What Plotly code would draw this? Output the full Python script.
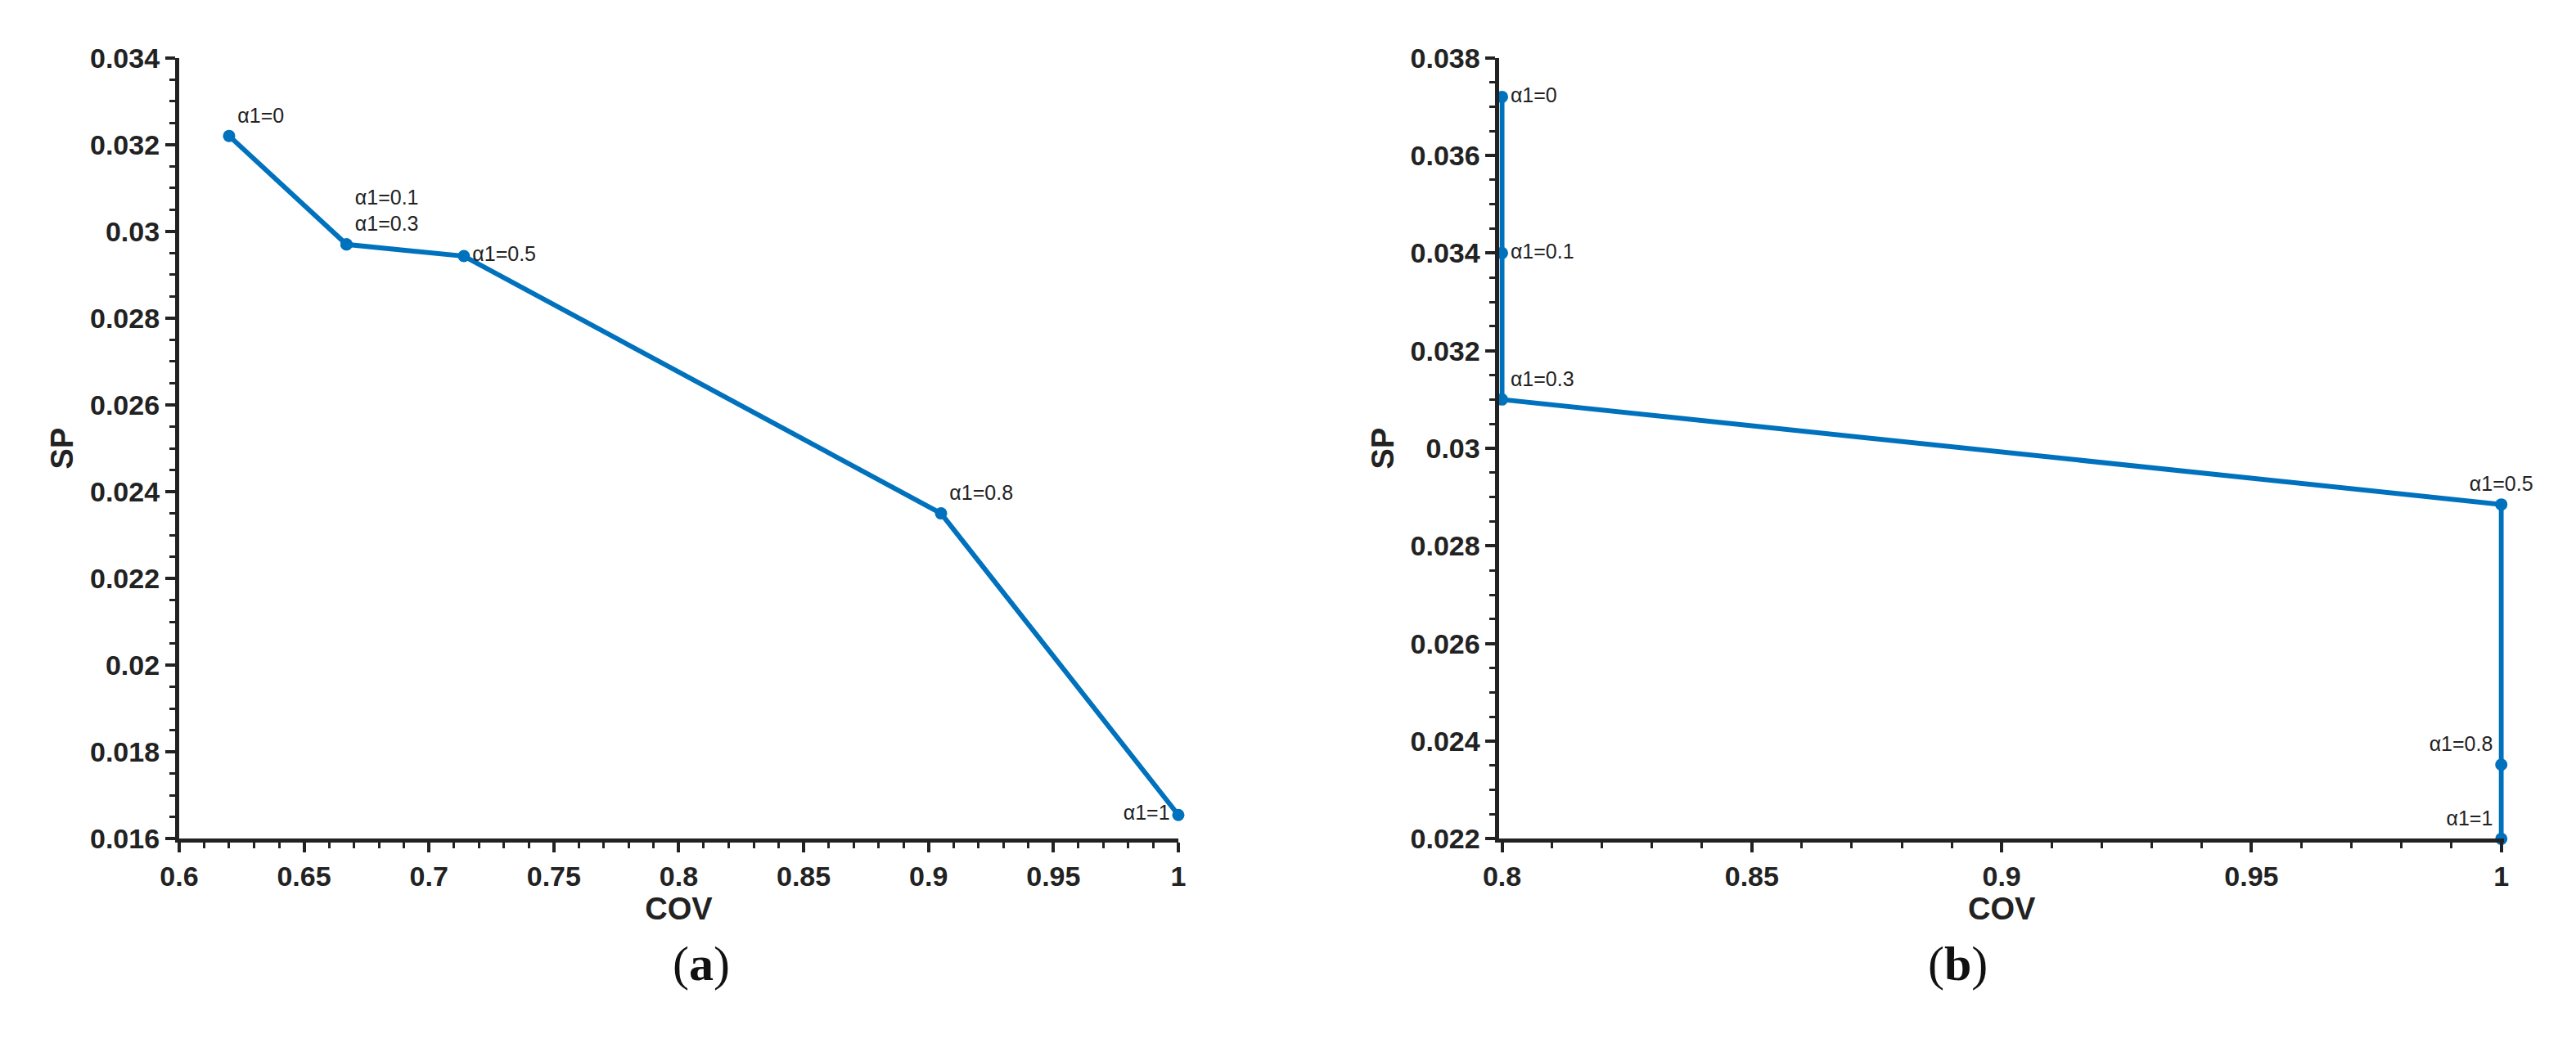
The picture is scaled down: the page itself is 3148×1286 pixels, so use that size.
import plotly.graph_objects as go

cov_a = [0.62, 0.667, 0.667, 0.714, 0.905, 1.0]
sp_a = [0.0322, 0.0297, 0.0297, 0.02943, 0.0235, 0.01655]
lab_a = ["α1=0", "", "α1=0.1<br>α1=0.3", "α1=0.5", "α1=0.8", "α1=1"]
pos_a = ["top right", "top right", "top right", "middle right", "top right", "middle left"]

cov_b = [0.8, 0.8, 0.8, 1.0, 1.0, 1.0]
sp_b = [0.0372, 0.0340, 0.0310, 0.02885, 0.02352, 0.0220]
lab_b = ["α1=0", "α1=0.1", "α1=0.3", "α1=0.5", "α1=0.8", "α1=1"]
pos_b = ["middle right", "middle right", "top right", "top center", "top left", "top left"]

C = "#0072BD"
fig = go.Figure()
fig.add_trace(go.Scatter(x=cov_a, y=sp_a, mode="lines+markers+text", text=lab_a,
                         textposition=pos_a, textfont=dict(size=25, color="#222", family="Liberation Sans"),
                         line=dict(color=C, width=6), marker=dict(color=C, size=15),
                         xaxis="x", yaxis="y", cliponaxis=False))
fig.add_trace(go.Scatter(x=cov_b, y=sp_b, mode="lines+markers+text", text=lab_b,
                         textposition=pos_b, textfont=dict(size=25, color="#222", family="Liberation Sans"),
                         line=dict(color=C, width=6), marker=dict(color=C, size=15),
                         xaxis="x2", yaxis="y2", cliponaxis=False))

ax = dict(showline=True, linecolor="#222", linewidth=5, ticks="outside", ticklen=12,
          tickwidth=4, tickcolor="#222", showgrid=False, zeroline=False,
          tickfont=dict(family="Liberation Sans", size=34, color="#222", weight="bold"),
          minor=dict(ticks="outside", ticklen=7, tickwidth=3, tickcolor="#222", nticks=5))
tfont = dict(family="Liberation Sans", size=38, color="#222", weight="bold")

fig.update_layout(
    width=3148, height=1286, margin=dict(l=0, r=0, t=0, b=0),
    plot_bgcolor="white", paper_bgcolor="white", showlegend=False,
    xaxis=dict(ax, domain=[0.06, 0.452], range=[0.6, 1.0], dtick=0.05,
               title=dict(text="COV", font=tfont, standoff=10), anchor="y"),
    yaxis=dict(ax, domain=[0.2, 0.965], range=[0.016, 0.034], dtick=0.002,
               title=dict(text="SP", font=tfont, standoff=10), anchor="x"),
    xaxis2=dict(ax, domain=[0.578, 0.972], range=[0.7995, 1.0005], tick0=0.8, dtick=0.05,
                title=dict(text="COV", font=tfont, standoff=10), anchor="y2"),
    yaxis2=dict(ax, domain=[0.2, 0.965], range=[0.022, 0.038], dtick=0.002,
                title=dict(text="SP", font=tfont, standoff=10), anchor="x2"),
    annotations=[
        dict(text="(<b>a</b>)", x=0.253, y=0.05, xref="paper", yref="paper", showarrow=False,
             font=dict(family="Liberation Serif", size=60, color="#111")),
        dict(text="(<b>b</b>)", x=0.77, y=0.05, xref="paper", yref="paper", showarrow=False,
             font=dict(family="Liberation Serif", size=60, color="#111")),
    ],
)
fig.write_html("out.html")
